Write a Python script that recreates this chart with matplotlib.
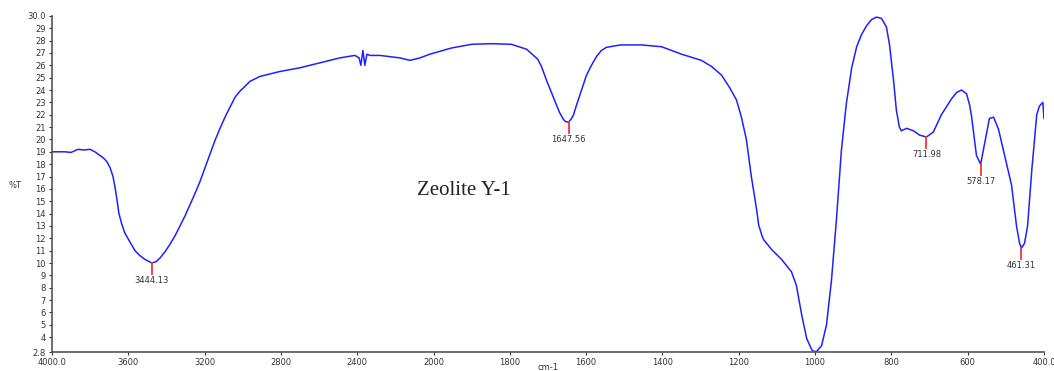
import matplotlib.pyplot as plt
import numpy as np

# FTIR spectrum of Zeolite Y-1
wavenumber = [4000, 3932, 3900, 3864, 3830, 3801, 3775, 3748, 3730, 3712, 3695,
              3680, 3668, 3659, 3649, 3633, 3617, 3591, 3565, 3539, 3513, 3476,
              3455, 3434, 3408, 3382, 3355, 3329, 3303, 3277, 3251, 3224, 3198,
              3172, 3146, 3119, 3093, 3067, 3041, 3015, 2988, 2962, 2910, 2857,
              2805, 2700, 2595, 2491, 2412, 2390, 2381, 2370, 2360, 2349, 2333,
              2281, 2176, 2124, 2071, 2019, 1953, 1900, 1848, 1796, 1756, 1727,
              1717, 1704, 1691, 1678, 1670, 1659, 1654, 1646, 1638, 1633, 1625,
              1612, 1599, 1586, 1573, 1560, 1547, 1520, 1507, 1455, 1402, 1376,
              1350, 1298, 1271, 1245, 1224, 1206, 1193, 1180, 1167, 1153, 1148,
              1140, 1135, 1114, 1088, 1075, 1062, 1049, 1035, 1022, 1009, 1004,
              996, 983, 970, 957, 944, 931, 918, 904, 891, 878, 865, 852, 839,
              826, 813, 805, 794, 787, 779, 774, 760, 742, 726, 708, 690, 669,
              642, 629, 616, 603, 595, 590, 577, 566, 556, 543, 532, 519, 503,
              485, 472, 464, 459, 451, 443, 432, 419, 412, 406, 403, 400]
transmittance = [19.0, 19.0, 18.95, 19.2, 19.15, 19.2, 19.0, 18.7, 18.5, 18.2, 17.7,
                 17.0, 16.0, 15.1, 14.0, 13.1, 12.4, 11.7, 11.0, 10.6, 10.3, 10.0,
                 10.1, 10.4, 10.9, 11.5, 12.2, 13.0, 13.8, 14.7, 15.6, 16.6, 17.7,
                 18.8, 19.9, 20.9, 21.8, 22.6, 23.4, 23.9, 24.3, 24.7, 25.1, 25.3,
                 25.5, 25.8, 26.2, 26.6, 26.8, 26.6, 26.0, 27.2, 26.0, 26.9, 26.8,
                 26.8, 26.6, 26.4, 26.6, 26.9, 27.4, 27.7, 27.75, 27.7, 27.3, 26.5,
                 25.9, 24.8, 23.8, 22.8, 22.2, 21.6, 21.45, 21.4, 21.7, 22.0, 22.8,
                 24.0, 25.2, 26.0, 26.7, 27.2, 27.45, 27.6, 27.65, 27.65, 27.5, 27.2,
                 26.9, 26.4, 25.9, 25.2, 24.2, 23.2, 21.8, 20.0, 17.0, 14.3, 13.1,
                 12.3, 11.9, 11.1, 10.3, 9.8, 9.3, 8.2, 5.8, 3.9, 3.0, 2.85,
                 2.85, 3.3, 5.0, 8.6, 13.5, 19.1, 22.9, 25.8, 27.5, 28.5, 29.2, 29.7, 29.9,
                 29.8, 29.1, 27.7, 24.7, 22.4, 21.0, 20.7, 20.9, 20.7, 20.35, 20.2, 20.6, 22.0,
                 23.3, 23.8, 24.0, 23.7, 22.8, 21.9, 18.7, 18.0, 19.6, 21.7, 21.8, 20.8, 18.7,
                 16.3, 13.0, 11.6, 11.2, 11.6, 13.0, 17.5, 22.0, 22.7, 22.9, 23.0, 21.7]

peak_pos = [3476, 1646, 708, 566, 459]
peak_val = [10.0, 21.4, 20.2, 18.0, 11.2]
peak_labels = ["3444.13", "1647.56", "711.98", "578.17", "461.31"]

x_ticks = [4000, 3600, 3200, 2800, 2400, 2000, 1800, 1600, 1400, 1200, 1000, 800, 600, 400]
x_tick_labels = ["4000.0", "3600", "3200", "2800", "2400", "2000", "1800", "1600",
                 "1400", "1200", "1000", "800", "600", "400.0"]
y_ticks = [2.8] + list(range(4, 30)) + [30.0]
y_tick_labels = ["2.8"] + [str(v) for v in range(4, 30)] + ["30.0"]


# the region above 2000 cm-1 is drawn at half scale, as on the instrument printout
def fwd(w):
    w = np.asarray(w, dtype=float)
    return np.where(w <= 2000, w, 2000 + (w - 2000) / 2)


def inv(u):
    u = np.asarray(u, dtype=float)
    return np.where(u <= 2000, u, 2000 + (u - 2000) * 2)


fig = plt.figure(figsize=(10.54, 3.71), dpi=100)
ax = fig.add_axes([0.0493, 0.0512, 0.9412, 0.906])
ax.set_xscale("function", functions=(fwd, inv))

ax.plot(wavenumber, transmittance, color="#2020ff", lw=1.1)

for pos, val, lab in zip(peak_pos, peak_val, peak_labels):
    ax.plot([pos, pos], [val, val - 0.9], color="#ff3030", lw=1.3)
    ax.text(pos, val - 1.05, lab, ha="center", va="top", fontsize=6,
            color="#333333", family="DejaVu Sans")

ax.set_xlim(4000, 400)
ax.set_ylim(2.8, 30.0)
ax.set_xticks(x_ticks)
ax.set_xticklabels(x_tick_labels)
ax.set_yticks(y_ticks)
ax.set_yticklabels(y_tick_labels)
ax.minorticks_off()
ax.tick_params(axis="both", labelsize=6, colors="#333333", length=2.5, width=0.8, pad=2)

for side in ["top", "right"]:
    ax.spines[side].set_visible(False)
for side in ["left", "bottom"]:
    ax.spines[side].set_color("#555555")
    ax.spines[side].set_linewidth(1.2)

ax.text(0.415, 0.48, "Zeolite Y-1", transform=ax.transAxes, ha="center", va="center",
        fontsize=15, family="Liberation Serif", color="#222222")
fig.text(15 / 1054, 1 - 186 / 371, "%T", ha="center", va="center", fontsize=6,
         color="#333333")
fig.text(548 / 1054, 1 - 368 / 371, "cm-1", ha="center", va="center", fontsize=6,
         color="#333333")

fig.savefig("out.png", dpi=100)
